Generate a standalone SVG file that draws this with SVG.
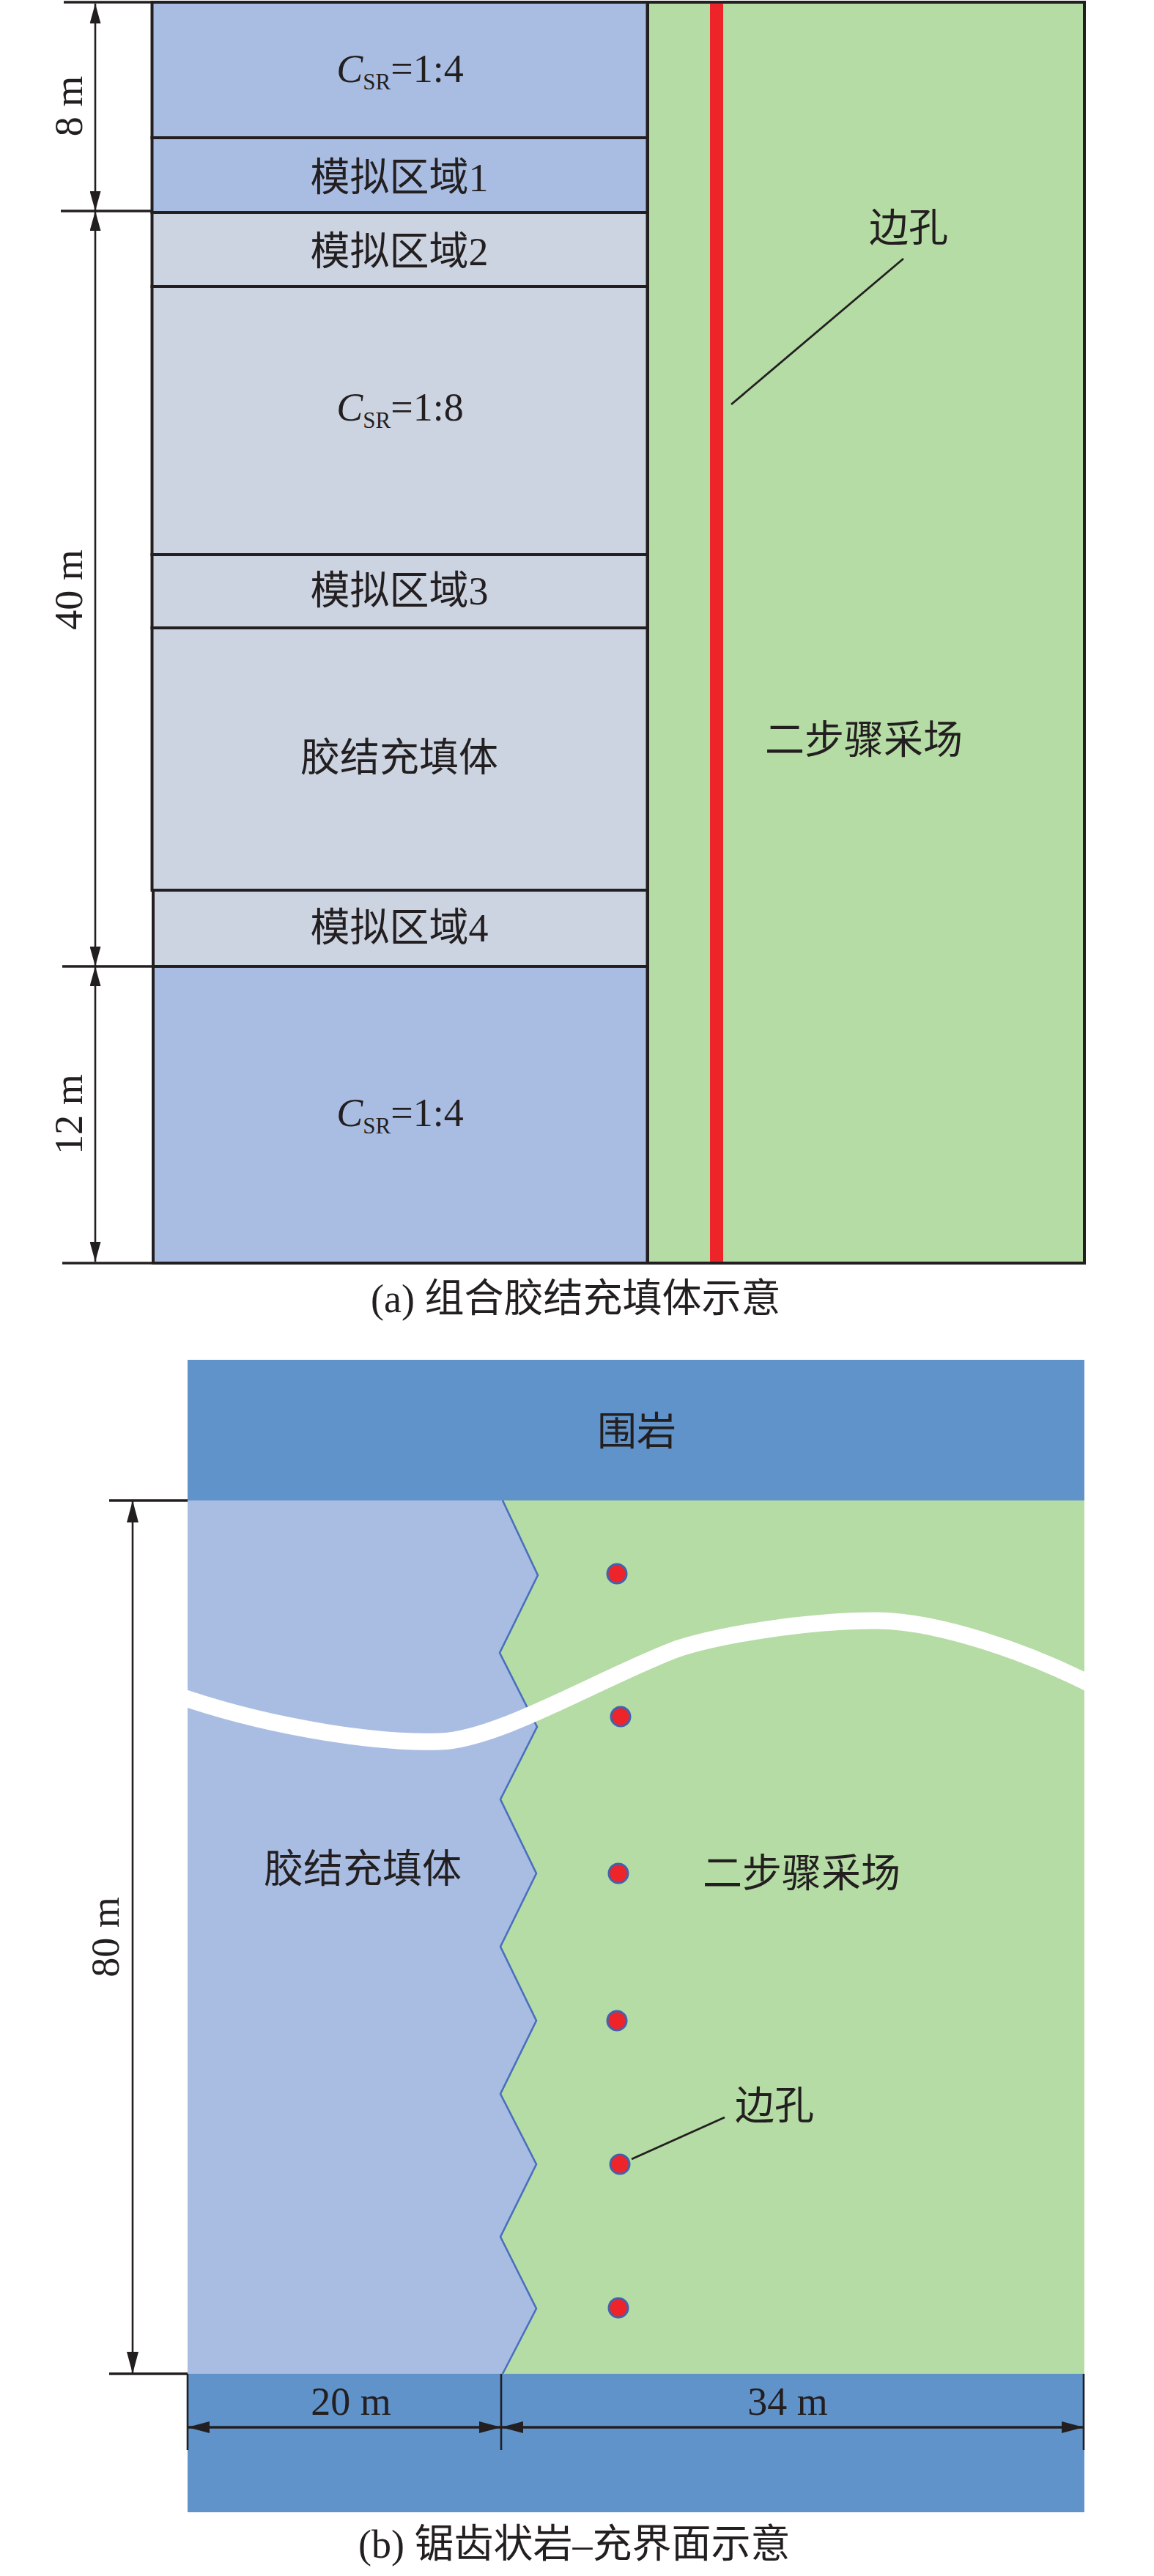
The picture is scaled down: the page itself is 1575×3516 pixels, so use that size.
<svg xmlns="http://www.w3.org/2000/svg" width="1575" height="3516" viewBox="0 0 1575 3516">
<style>
text{font-family:'Liberation Serif','Noto Sans CJK SC',serif;font-size:54px;fill:#231f20}
.box{stroke:#231f20;stroke-width:4}
.blue{fill:#a9bde3}
.gray{fill:#cdd4e1}
.green{fill:#b5dca4}
.rock{fill:#5f93ca}
.tick{stroke:#231f20;stroke-width:3.5;fill:none}
.dim{stroke:#231f20;stroke-width:2.6;fill:none}
.leader{stroke:#231f20;stroke-width:2.8;fill:none}
.hole{fill:#ee242b;stroke:#4262ad;stroke-width:3}
</style>
<defs>
<marker id="arrA" viewBox="0 0 27 15" refX="27" refY="7.5" markerWidth="27" markerHeight="15" markerUnits="userSpaceOnUse" orient="auto-start-reverse"><path d="M0,0 L27,7.5 L0,15 z" fill="#231f20"/></marker>
<marker id="arrB" viewBox="0 0 30 16" refX="30" refY="8" markerWidth="30" markerHeight="16" markerUnits="userSpaceOnUse" orient="auto-start-reverse"><path d="M0,0 L30,8 L0,16 z" fill="#231f20"/></marker>
<clipPath id="clipB"><rect x="256" y="2048" width="1224" height="1192"/></clipPath>
</defs>

<!-- (a) combined cemented backfill -->
<g id="stope-a">
<rect class="green box" x="884" y="3" width="596" height="1721"/>
<rect x="969" y="1" width="18" height="1721" fill="#ee242b"/>
<text x="1179" y="1029" text-anchor="middle">二步骤采场</text>
</g>
<g id="csr-top">
<rect class="blue box" x="207.5" y="3" width="676" height="185"/>
<text x="546" y="112" text-anchor="middle"><tspan font-style="italic">C</tspan><tspan font-size="31" dy="10">SR</tspan><tspan dy="-10">=1:4</tspan></text>
</g>
<g id="zone1">
<rect class="blue box" x="207.5" y="188" width="676" height="102"/>
<text x="545" y="261" text-anchor="middle">模拟区域1</text>
</g>
<g id="zone2">
<rect class="gray box" x="207.5" y="290" width="676" height="101"/>
<text x="545" y="362" text-anchor="middle">模拟区域2</text>
</g>
<g id="csr-mid">
<rect class="gray box" x="207.5" y="391" width="676" height="366"/>
<text x="546" y="574" text-anchor="middle"><tspan font-style="italic">C</tspan><tspan font-size="31" dy="10">SR</tspan><tspan dy="-10">=1:8</tspan></text>
</g>
<g id="zone3">
<rect class="gray box" x="207.5" y="757" width="676" height="100"/>
<text x="545" y="825" text-anchor="middle">模拟区域3</text>
</g>
<g id="backfill-a">
<rect class="gray box" x="207.5" y="857" width="676" height="358"/>
<text x="545" y="1053" text-anchor="middle">胶结充填体</text>
</g>
<g id="zone4">
<rect class="gray box" x="209" y="1215" width="674.5" height="104"/>
<text x="545" y="1285" text-anchor="middle">模拟区域4</text>
</g>
<g id="csr-bottom">
<rect class="blue box" x="209" y="1319" width="674.5" height="405"/>
<text x="546" y="1537" text-anchor="middle"><tspan font-style="italic">C</tspan><tspan font-size="31" dy="10">SR</tspan><tspan dy="-10">=1:4</tspan></text>
</g>
<g id="label-hole-a">
<text x="1240" y="330" text-anchor="middle">边孔</text>
</g>
<g id="dims-a">
<text transform="translate(112,145) rotate(-90)" text-anchor="middle">8 m</text>
<text transform="translate(112,805) rotate(-90)" text-anchor="middle">40 m</text>
<text transform="translate(112,1521) rotate(-90)" text-anchor="middle">12 m</text>
</g>
<g id="caption-a">
<text x="506" y="1791">(a) 组合胶结充填体示意</text>
</g>

<!-- (b) serrated interface -->
<g id="rock-top">
<rect class="rock" x="256" y="1856" width="1224" height="192"/>
<text x="869" y="1973" text-anchor="middle">围岩</text>
</g>
<g id="stope-b">
<rect class="green" x="256" y="2048" width="1224" height="1192"/>
<text x="1094" y="2576" text-anchor="middle">二步骤采场</text>
</g>
<g id="backfill-b">
<polygon class="blue" points="256,2048 686,2048 734,2150 682,2256 733,2357 683,2456 732,2557 683,2657 732,2758 683,2858 732,2954 683,3053 732,3151 686,3240 256,3240"/>
<polyline points="686,2048 734,2150 682,2256 733,2357 683,2456 732,2557 683,2657 732,2758 683,2858 732,2954 683,3053 732,3151 686,3240" fill="none" stroke="#4a6fbf" stroke-width="2.6"/>
<text x="495" y="2570" text-anchor="middle">胶结充填体</text>
</g>
<g id="crack" clip-path="url(#clipB)">
<path d="M240,2313 L256,2319 C380,2360 520,2380 600,2377 C680,2375 820,2290 923,2251 C980,2232 1100,2212 1195,2212 C1280,2212 1400,2255 1481,2295 L1500,2305" fill="none" stroke="#ffffff" stroke-width="23"/>
</g>
<g id="holes-b">
<circle class="hole" cx="842" cy="2148" r="13"/>
<circle class="hole" cx="847" cy="2343" r="13"/>
<circle class="hole" cx="844" cy="2557" r="13"/>
<circle class="hole" cx="842" cy="2758" r="13"/>
<circle class="hole" cx="846" cy="2954" r="13"/>
<circle class="hole" cx="844" cy="3150" r="13"/>
</g>
<g id="label-hole-b">
<text x="1057" y="2893" text-anchor="middle">边孔</text>
</g>
<g id="rock-bottom">
<rect class="rock" x="256" y="3240" width="1224" height="189"/>
<text x="479" y="3296" text-anchor="middle">20 m</text>
<text x="1075" y="3296" text-anchor="middle">34 m</text>
</g>
<g id="dims-b">
<text transform="translate(162,2644) rotate(-90)" text-anchor="middle">80 m</text>
</g>
<g id="caption-b">
<text x="489" y="3491">(b) 锯齿状岩–充界面示意</text>
</g>

<!-- connectors: leaders and dimension lines -->
<g id="connectors">
<line class="leader" x1="1233" y1="353" x2="998" y2="552"/>
<line class="leader" x1="989" y1="2890" x2="862" y2="2947"/>
<line class="tick" x1="87" y1="3" x2="1482" y2="3"/>
<line class="tick" x1="83" y1="288" x2="207" y2="288"/>
<line class="tick" x1="85" y1="1319" x2="208" y2="1319"/>
<line class="tick" x1="85" y1="1724" x2="1482" y2="1724"/>
<line class="dim" x1="130" y1="5" x2="130" y2="288" marker-start="url(#arrA)" marker-end="url(#arrA)"/>
<line class="dim" x1="130" y1="288" x2="130" y2="1319" marker-start="url(#arrA)" marker-end="url(#arrA)"/>
<line class="dim" x1="130" y1="1319" x2="130" y2="1722" marker-start="url(#arrA)" marker-end="url(#arrA)"/>
<line class="tick" x1="149" y1="2048" x2="256" y2="2048"/>
<line class="tick" x1="149" y1="3240" x2="256" y2="3240"/>
<line class="dim" x1="181" y1="2048" x2="181" y2="3240" marker-start="url(#arrB)" marker-end="url(#arrB)"/>
<line class="dim" x1="256" y1="3240" x2="256" y2="3344"/>
<line class="dim" x1="684" y1="3240" x2="684" y2="3344"/>
<line class="dim" x1="1479" y1="3240" x2="1479" y2="3344"/>
<line class="tick" x1="256" y1="3313" x2="684" y2="3313" marker-start="url(#arrB)" marker-end="url(#arrB)"/>
<line class="tick" x1="684" y1="3313" x2="1479" y2="3313" marker-start="url(#arrB)" marker-end="url(#arrB)"/>
</g>
</svg>
